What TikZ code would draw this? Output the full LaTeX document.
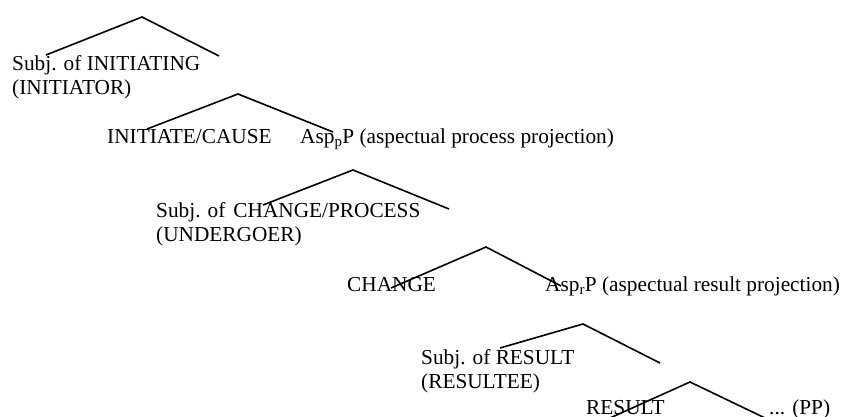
\documentclass[tikz,border=0pt]{standalone}
\usepackage{fontspec}
\setmainfont{Liberation Serif}
\begin{document}
\begin{tikzpicture}[x=1pt,y=-1pt,
  lbl/.style={anchor=base west,inner sep=0pt,font=\fontsize{21.3}{24}\selectfont},
  branch/.style={line width=1.6pt,line join=miter}]
\useasboundingbox (0,0) rectangle (845,417);
% labels
\node[lbl] (si)  at (12,71)  {Subj. of INITIATING};
\node[lbl] (si2) at (12,95)  {(INITIATOR)};
\node[lbl] (ic)  at (107,143) {INITIATE/CAUSE};
\node[lbl] (ap)  at (300,143) {Asp\textsubscript{p}P (aspectual process projection)};
\node[lbl] (sc)  at (156,217) {Subj. of\hspace{8pt}CHANGE/PROCESS};
\node[lbl] (sc2) at (156,241) {(UNDERGOER)};
\node[lbl] (ch)  at (347,291) {CHANGE};
\node[lbl] (ar)  at (545,291) {Asp\textsubscript{r}P (aspectual result projection)};
\node[lbl] (sr)  at (421,364) {Subj. of RESULT};
\node[lbl] (sr2) at (421,388) {(RESULTEE)};
\node[lbl] (rs)  at (586,414) {RESULT};
\node[lbl] (pp)  at (769,414) {... (PP)};
% tree coordinates
\coordinate (t1l) at (46,55);  \coordinate (t1a) at (142,17);  \coordinate (t1r) at (219,56);
\coordinate (t2l) at (147,129); \coordinate (t2a) at (238,94);  \coordinate (t2r) at (333,132);
\coordinate (t3l) at (263,205); \coordinate (t3a) at (353,170); \coordinate (t3r) at (449,209);
\coordinate (t4l) at (391,288); \coordinate (t4a) at (486,247); \coordinate (t4r) at (561,286);
\coordinate (t5l) at (500,348); \coordinate (t5a) at (583,324); \coordinate (t5r) at (660,363);
\coordinate (t6l) at (610,418); \coordinate (t6a) at (690,382); \coordinate (t6r) at (765,418);
\foreach \t in {1,...,6}
  \draw[branch] (t\t l) -- (t\t a) -- (t\t r);
\end{tikzpicture}
\end{document}
